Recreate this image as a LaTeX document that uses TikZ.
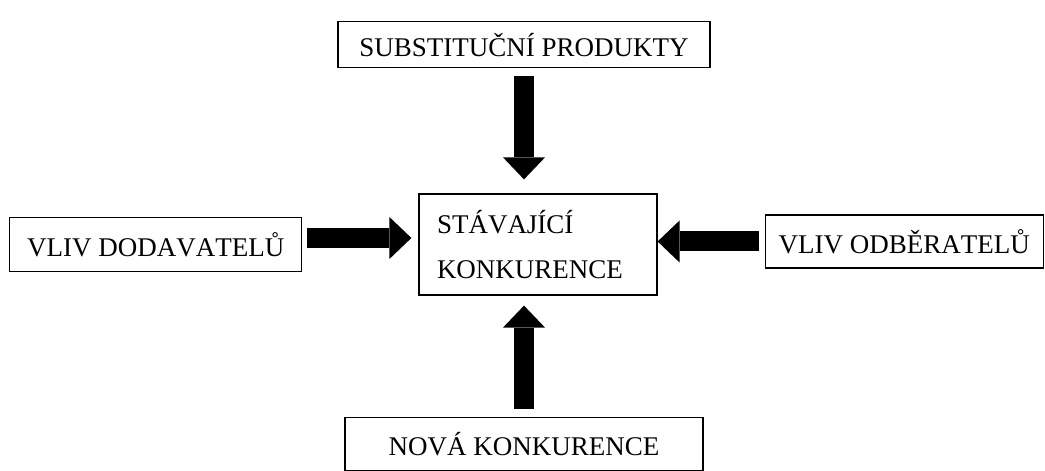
\documentclass[tikz,border=0pt]{standalone}
\usepackage{fontspec}
\setmainfont{Liberation Serif}[Kerning=Off]
\usetikzlibrary{arrows.meta, positioning, calc}

\begin{document}
\begin{tikzpicture}[
    x=1pt, y=1pt,
    node distance=110pt,
    factor/.style={
        rectangle, draw=black, line width=1.2pt, fill=white, inner sep=0pt,
        font=\fontsize{27}{45}\selectfont
    },
    blockarrow/.style={
        line width=20pt, draw=black,
        -{Triangle[length=22pt, width=42pt, line width=0pt]}
    }
]

\useasboundingbox (0,0) rectangle (1045,471);

% Centre: existing rivalry
\node[factor, minimum height=101pt, text width=202pt, inner xsep=18pt, align=left] (current) at (538,226.5) {STÁVAJÍCÍ\\KONKURENCE};

% Four forces round it
\node[factor, minimum width=292pt, minimum height=54pt, left=116pt of current] (suppliers) {VLIV DODAVATELŮ};
\node[factor, minimum width=278pt, minimum height=53pt, right=107pt of current, yshift=3pt] (buyers) {VLIV ODBĚRATELŮ};
\node[factor, minimum width=372pt, minimum height=46pt, above=125pt of current, xshift=-14pt] (substitutes) {SUBSTITUČNÍ PRODUKTY};
\node[factor, minimum width=358pt, minimum height=53pt, below=121pt of current, xshift=-14pt] (entrants) {NOVÁ KONKURENCE};

% Block arrows towards the centre
\coordinate (suppstart) at ([shift={(5pt,6.5pt)}]suppliers.east);
\draw[blockarrow] ([yshift=-8pt]substitutes.south) -- ($(substitutes.south |- current.north)+(0,14)$);
\draw[blockarrow] ([yshift=8pt]entrants.north) -- ($(entrants.north |- current.south)+(0,-10)$);
\draw[blockarrow] (suppstart) -- ($(current.west |- suppstart)+(-7,0)$);
\draw[blockarrow] ([xshift=-6pt]buyers.west) -- (current.east |- buyers.west);

\end{tikzpicture}
\end{document}
